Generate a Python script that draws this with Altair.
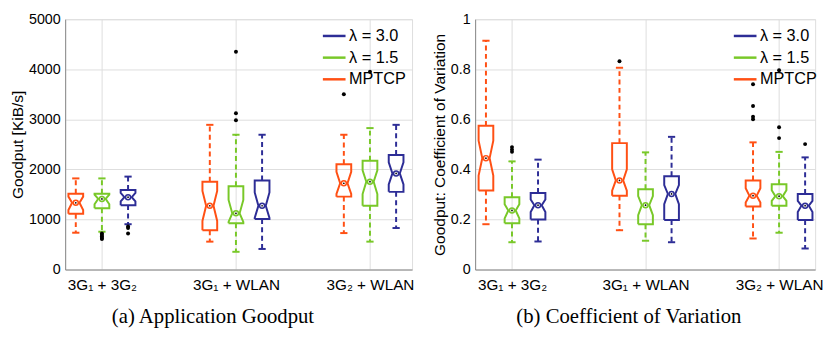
import altair as alt
import pandas as pd

# ---------------- data ----------------
group_labels = ["3G₁ + 3G₂", "3G₁ + WLAN", "3G₂ + WLAN"]
series = ["MPTCP", "λ = 1.5", "λ = 3.0"]
legend_order = ["λ = 3.0", "λ = 1.5", "MPTCP"]
series_colors = ["#2D2D96", "#78C828", "#FF5014"]  # in legend_order
series_offset = {"MPTCP": -0.195, "λ = 1.5": 0.0, "λ = 3.0": 0.195}

# Panel (a): Application Goodput [KiB/s]; lists are per group
a_wlo = {"MPTCP": [735, 557, 728], "λ = 1.5": [755, 354, 557], "λ = 3.0": [905, 411, 829]}
a_q1 = {"MPTCP": [1114, 785, 1456], "λ = 1.5": [1222, 924, 1274], "λ = 3.0": [1285, 1010, 1551]}
a_nlo = {"MPTCP": [1190, 970, 1508], "λ = 1.5": [1304, 950, 1508], "λ = 3.0": [1360, 1032, 1698]}
a_med = {"MPTCP": [1333, 1274, 1723], "λ = 1.5": [1410, 1122, 1755], "λ = 3.0": [1445, 1274, 1920]}
a_nhi = {"MPTCP": [1456, 1570, 1951], "λ = 1.5": [1494, 1390, 1983], "λ = 3.0": [1530, 1540, 2141]}
a_q3 = {"MPTCP": [1515, 1755, 2103], "λ = 1.5": [1515, 1665, 2173], "λ = 3.0": [1590, 1780, 2287]}
a_whi = {"MPTCP": [1820, 2890, 2692], "λ = 1.5": [1820, 2692, 2825], "λ = 3.0": [1856, 2692, 2890]}
a_out = {
    "MPTCP": [[], [], [3500]],
    "λ = 1.5": [[720, 690, 660, 630, 610], [4350, 3120, 2980], [3950]],
    "λ = 3.0": [[860, 830, 720], [], []],
}

# Panel (b): Coefficient of Variation
b_wlo = {"MPTCP": [0.181, 0.157, 0.124], "λ = 1.5": [0.109, 0.115, 0.147], "λ = 3.0": [0.112, 0.109, 0.084]}
b_q1 = {"MPTCP": [0.316, 0.295, 0.252], "λ = 1.5": [0.185, 0.181, 0.255], "λ = 3.0": [0.200, 0.198, 0.198]}
b_nlo = {"MPTCP": [0.375, 0.315, 0.268], "λ = 1.5": [0.204, 0.217, 0.274], "λ = 3.0": [0.230, 0.261, 0.230]}
b_med = {"MPTCP": [0.445, 0.356, 0.295], "λ = 1.5": [0.236, 0.257, 0.293], "λ = 3.0": [0.257, 0.302, 0.255]}
b_nhi = {"MPTCP": [0.515, 0.400, 0.325], "λ = 1.5": [0.261, 0.293, 0.317], "λ = 3.0": [0.280, 0.337, 0.274]}
b_q3 = {"MPTCP": [0.574, 0.505, 0.356], "λ = 1.5": [0.289, 0.321, 0.341], "λ = 3.0": [0.306, 0.373, 0.302]}
b_whi = {"MPTCP": [0.914, 0.806, 0.508], "λ = 1.5": [0.432, 0.468, 0.470], "λ = 3.0": [0.439, 0.530, 0.448]}
b_out = {
    "MPTCP": [[], [0.832], [0.740, 0.653, 0.610, 0.600]],
    "λ = 1.5": [[0.489, 0.479, 0.470], [], [0.796, 0.568, 0.525]],
    "λ = 3.0": [[], [], [0.501]],
}

HW = 0.055   # box half width (x units)
CAP = 0.027  # whisker cap half width

FONT = "Liberation Sans"


def build_frames(wlo, q1, nlo, med, nhi, q3, whi, out):
    poly, stats, segs, caps, outs = [], [], [], [], []
    for s in series:
        for g in range(3):
            pos = g + 1 + series_offset[s]
            box = f"{s}-{g}"
            pts = [
                (pos - HW, q1[s][g]), (pos - HW, nlo[s][g]), (pos - HW / 2, med[s][g]),
                (pos - HW, nhi[s][g]), (pos - HW, q3[s][g]), (pos + HW, q3[s][g]),
                (pos + HW, nhi[s][g]), (pos + HW / 2, med[s][g]), (pos + HW, nlo[s][g]),
                (pos + HW, q1[s][g]), (pos - HW, q1[s][g]),
            ]
            for k, (x, y) in enumerate(pts):
                poly.append({"series": s, "box": box, "k": k, "x": x, "y": y})
            stats.append({"series": s, "pos": pos, "med": med[s][g]})
            segs.append({"series": s, "pos": pos, "y": q3[s][g], "y2": whi[s][g]})
            segs.append({"series": s, "pos": pos, "y": q1[s][g], "y2": wlo[s][g]})
            caps.append({"series": s, "xl": pos - CAP, "xr": pos + CAP, "y": whi[s][g]})
            caps.append({"series": s, "xl": pos - CAP, "xr": pos + CAP, "y": wlo[s][g]})
            for v in out[s][g]:
                outs.append({"series": s, "pos": pos, "y": v})
    return (pd.DataFrame(poly), pd.DataFrame(stats), pd.DataFrame(segs),
            pd.DataFrame(caps), pd.DataFrame(outs))


label_expr = "[" + ",".join(f"'{l}'" for l in group_labels) + "][datum.value - 1]"

color_scale = alt.Scale(domain=legend_order, range=series_colors)


def panel(frames, xdomain, ydomain, yvalues, yformat, ytitle, caption, width, height, lx, ly, cdx):
    poly, stats, segs, caps, outs = frames
    xscale = alt.Scale(domain=xdomain, nice=False, zero=False)
    yscale = alt.Scale(domain=ydomain, nice=False, zero=False)
    xaxis = alt.Axis(values=[1, 2, 3], labelExpr=label_expr, title=None, grid=True,
                     ticks=False, labelFontSize=15.5, labelPadding=8, labelFont=FONT)
    yaxis = alt.Axis(values=yvalues, format=yformat, title=ytitle, grid=True, ticks=False,
                     labelFontSize=14.5, labelPadding=5, labelFont=FONT, titleFont=FONT,
                     titleFontSize=15.7, titleFontWeight="normal", titlePadding=3)
    legend = alt.Legend(title=None, orient="none", legendX=lx, legendY=ly, symbolType="stroke",
                        symbolSize=529, symbolStrokeWidth=2.5, labelFontSize=16.5, labelFont=FONT,
                        labelColor="black", rowPadding=-3, labelOffset=2, padding=0)
    color = alt.Color("series:N", scale=color_scale, legend=legend)

    def X(f):
        return alt.X(f, type="quantitative", scale=xscale, axis=xaxis)

    def Y(f):
        return alt.Y(f, type="quantitative", scale=yscale, axis=yaxis)

    whisk = alt.Chart(segs).mark_rule(strokeWidth=2, strokeDash=[5, 3.5]).encode(
        x=X("pos"), y=Y("y"), y2="y2", color=color)
    capl = alt.Chart(caps).mark_rule(strokeWidth=2).encode(
        x=X("xl"), x2="xr", y=Y("y"), color=color)
    boxes = alt.Chart(poly).mark_line(strokeWidth=2).encode(
        x=X("x"), y=Y("y"), color=color, detail="box:N", order="k:Q")
    medc = alt.Chart(stats).mark_point(shape="circle", filled=False, size=26, strokeWidth=1.5,
                                       opacity=1).encode(x=X("pos"), y=Y("med"), color=color)
    medd = alt.Chart(stats).mark_point(shape="circle", filled=True, size=3, color="black",
                                       opacity=1).encode(x=X("pos"), y=Y("med"))
    outp = alt.Chart(outs).mark_point(shape="circle", filled=True, size=16, color="black",
                                      opacity=1).encode(x=X("pos"), y=Y("y"))
    return alt.layer(whisk, capl, boxes, medc, medd, outp).properties(
        width=width, height=height,
        title=alt.TitleParams(caption, orient="bottom", anchor="middle", frame="group",
                              font="Liberation Serif", fontSize=21, fontWeight="normal",
                              color="black", offset=14, dx=cdx),
    )


fa = build_frames(a_wlo, a_q1, a_nlo, a_med, a_nhi, a_q3, a_whi, a_out)
fb = build_frames(b_wlo, b_q1, b_nlo, b_med, b_nhi, b_q3, b_whi, b_out)

pa = panel(fa, [0.7257, 3.314], [0, 5000], [0, 1000, 2000, 3000, 4000, 5000], "d",
           "Goodput [KiB/s]", "(a)  Application Goodput", 352, 254, 260, 4, -26)
pb = panel(fb, [0.724, 3.270], [0, 1], [0, 0.2, 0.4, 0.6, 0.8, 1.0], ".1~f",
           "Goodput: Coefficient of Variation", "(b)  Coefficient of Variation", 345, 254, 261, 4, -16.5)

chart = alt.hconcat(pa, pb, spacing=16).resolve_scale(color="independent").properties(
    padding={"left": 1, "top": 0, "right": 0, "bottom": 0}
).configure_view(stroke="black", strokeWidth=1.2).configure_axis(
    domainColor="black", labelColor="black", titleColor="black",
    gridColor="#9a9a9a", gridDash=[1, 2.5], gridWidth=1
).configure(background="white")

chart.save("out.html", embed_options={"renderer": "svg", "actions": False})
